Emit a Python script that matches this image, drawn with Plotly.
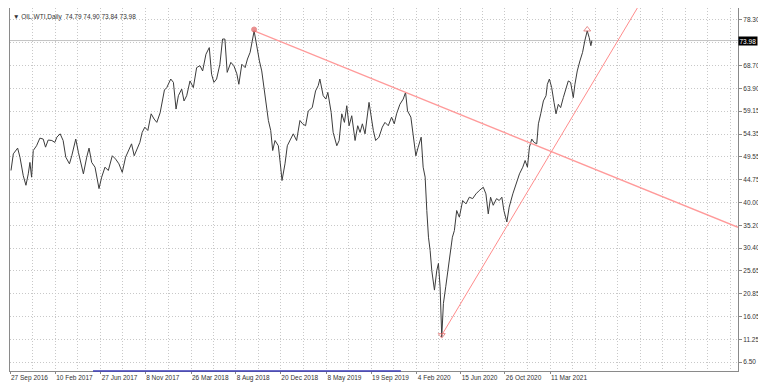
import plotly.graph_objects as go
import pandas as pd

# ---------------- data ----------------
dates = [
    "2016-09-30", "2016-10-07", "2016-10-20", "2016-10-27", "2016-11-06", "2016-11-14", "2016-11-21", "2016-11-26",
    "2016-12-01", "2016-12-06", "2016-12-16", "2016-12-26", "2017-01-05", "2017-01-12", "2017-01-20", "2017-01-31",
    "2017-02-09", "2017-02-15", "2017-02-25", "2017-03-06", "2017-03-14", "2017-03-25", "2017-04-01", "2017-04-13",
    "2017-04-21", "2017-05-06", "2017-05-16", "2017-05-23", "2017-05-31", "2017-06-10", "2017-06-22", "2017-06-30",
    "2017-07-10", "2017-07-20", "2017-08-01", "2017-08-11", "2017-08-21", "2017-08-31", "2017-09-10", "2017-09-20",
    "2017-09-28", "2017-10-06", "2017-10-17", "2017-10-23", "2017-10-30", "2017-11-07", "2017-11-16", "2017-11-26",
    "2017-12-05", "2017-12-13", "2017-12-23", "2017-12-30", "2018-01-05", "2018-01-12", "2018-01-24", "2018-02-01",
    "2018-02-09", "2018-02-16", "2018-02-26", "2018-03-05", "2018-03-13", "2018-03-23", "2018-04-02", "2018-04-12",
    "2018-04-22", "2018-04-30", "2018-05-10", "2018-05-20", "2018-05-27", "2018-06-03", "2018-06-11", "2018-06-21",
    "2018-06-29", "2018-07-06", "2018-07-13", "2018-07-24", "2018-08-02", "2018-08-11", "2018-08-17", "2018-08-26",
    "2018-09-05", "2018-09-12", "2018-09-20", "2018-10-02", "2018-10-10", "2018-10-18", "2018-10-25", "2018-11-04",
    "2018-11-14", "2018-11-21", "2018-11-27", "2018-12-04", "2018-12-14", "2018-12-21", "2018-12-25", "2019-01-03",
    "2019-01-10", "2019-01-20", "2019-01-28", "2019-02-07", "2019-02-17", "2019-02-25", "2019-03-06", "2019-03-14",
    "2019-03-26", "2019-04-05", "2019-04-13", "2019-04-18", "2019-04-28", "2019-05-06", "2019-05-12", "2019-05-22",
    "2019-05-28", "2019-06-08", "2019-06-15", "2019-06-23", "2019-07-01", "2019-07-08", "2019-07-15", "2019-07-23",
    "2019-08-02", "2019-08-10", "2019-08-17", "2019-08-24", "2019-09-01", "2019-09-13", "2019-09-19", "2019-09-26",
    "2019-10-03", "2019-10-13", "2019-10-23", "2019-10-31", "2019-11-10", "2019-11-20", "2019-11-28", "2019-12-05",
    "2019-12-15", "2019-12-25", "2020-01-01", "2020-01-07", "2020-01-17", "2020-01-24", "2020-02-01", "2020-02-08",
    "2020-02-17", "2020-02-23", "2020-02-29", "2020-03-05", "2020-03-10", "2020-03-15", "2020-03-20", "2020-03-28",
    "2020-04-04", "2020-04-09", "2020-04-14", "2020-04-19", "2020-04-24", "2020-05-01", "2020-05-07", "2020-05-13",
    "2020-05-21", "2020-05-27", "2020-06-03", "2020-06-11", "2020-06-21", "2020-07-01", "2020-07-11", "2020-07-21",
    "2020-07-31", "2020-08-10", "2020-08-22", "2020-08-30", "2020-09-06", "2020-09-13", "2020-09-21", "2020-10-01",
    "2020-10-09", "2020-10-17", "2020-10-23", "2020-11-01", "2020-11-08", "2020-11-19", "2020-11-29", "2020-12-09",
    "2020-12-19", "2020-12-26", "2021-01-02", "2021-01-08", "2021-01-15", "2021-01-22", "2021-01-30", "2021-02-04",
    "2021-02-11", "2021-02-19", "2021-02-27", "2021-03-03", "2021-03-09", "2021-03-16", "2021-03-23", "2021-03-29",
    "2021-04-05", "2021-04-12", "2021-04-20", "2021-04-28", "2021-05-05", "2021-05-12", "2021-05-20", "2021-05-25",
    "2021-06-01", "2021-06-09", "2021-06-17", "2021-06-24", "2021-07-01", "2021-07-07", "2021-07-12", "2021-07-15",
]
prices = [
    46.7, 50.2, 51.4, 49.5, 45.6, 43.6, 46.0, 48.4,
    45.3, 50.9, 51.9, 53.5, 53.3, 51.6, 53.1, 53.0,
    52.6, 53.7, 54.4, 53.0, 49.5, 48.1, 49.8, 53.3,
    50.5, 46.0, 49.5, 51.4, 48.4, 47.4, 42.9, 45.3,
    47.4, 46.7, 49.8, 49.1, 48.1, 46.3, 49.5, 51.2,
    52.3, 49.8, 51.9, 52.6, 54.7, 55.8, 55.1, 58.6,
    57.5, 56.8, 58.8, 61.9, 63.6, 64.1, 65.9, 65.2,
    59.6, 62.4, 63.8, 61.3, 62.4, 65.5, 64.1, 68.3,
    68.7, 67.6, 71.1, 72.5, 66.9, 65.2, 65.9, 69.0,
    74.3, 74.3, 67.3, 69.4, 68.7, 67.0, 64.8, 69.0,
    68.3, 70.1, 71.5, 76.0, 72.5, 69.7, 67.6, 62.7,
    57.2, 55.1, 50.9, 53.0, 51.9, 47.4, 44.6, 48.1,
    51.9, 53.3, 54.4, 53.0, 57.2, 56.5, 56.1, 59.2,
    59.9, 63.4, 64.5, 65.9, 62.4, 61.7, 63.1, 58.9,
    54.7, 51.9, 53.0, 58.6, 56.8, 60.3, 56.1, 58.2,
    53.0, 56.1, 54.7, 56.5, 54.4, 61.0, 58.2, 55.1,
    53.0, 53.7, 55.8, 56.8, 56.1, 57.9, 56.5, 58.6,
    60.6, 61.7, 63.1, 59.2, 57.9, 53.7, 49.8, 51.6,
    53.7, 47.4, 45.3, 38.3, 32.7, 29.9, 25.7, 21.6,
    25.7, 27.2, 22.3, 11.8, 18.8, 22.3, 25.7, 28.5,
    32.7, 34.1, 38.3, 36.9, 40.4, 39.7, 41.1, 40.8,
    41.8, 42.5, 43.2, 41.8, 37.6, 41.1, 39.4, 40.8,
    40.4, 41.1, 38.3, 35.9, 39.0, 41.8, 43.9, 46.0,
    47.4, 48.8, 47.4, 51.6, 53.3, 52.6, 52.3, 56.5,
    58.6, 61.3, 62.4, 64.8, 65.9, 64.1, 61.0, 58.6,
    60.6, 59.9, 62.0, 63.8, 65.5, 65.2, 62.0, 64.8,
    67.6, 69.7, 71.5, 74.0, 76.0, 74.6, 72.9, 73.98,
]

header_text = "\u25BC OIL.WTI,Daily  74.79 74.90 73.84 73.98"
last_price = 73.98

# trend line anchors (date, price)
trend1_dates = ["2018-10-02", "2020-01-01"]
trend1_prices = [76.0, 63.1]
trend2_dates = ["2020-04-19", "2020-11-01"]
trend2_prices = [12.15, 35.0]

# arrow objects on the chart
mark_dates = ["2018-10-02", "2020-04-19", "2021-07-01"]
mark_prices = [76.3, 12.15, 76.3]

# axis labels
x_tick_dates = ["2016-09-27", "2017-02-10", "2017-06-27", "2017-11-08", "2018-03-26", "2018-08-08",
                "2018-12-20", "2019-05-08", "2019-09-19", "2020-02-04", "2020-06-15", "2020-10-26", "2021-03-11"]
x_tick_text = ["27 Sep 2016", "10 Feb 2017", "27 Jun 2017", "8 Nov 2017", "26 Mar 2018", "8 Aug 2018",
               "20 Dec 2018", "8 May 2019", "19 Sep 2019", "4 Feb 2020", "15 Jun 2020", "26 Oct 2020", "11 Mar 2021"]
y_tick_vals = [78.30, 73.50, 68.70, 63.90, 59.15, 54.35, 49.55, 44.75, 40.00, 35.20, 30.40, 25.65, 20.85, 16.05, 11.25, 6.50]
y_tick_text = ["78.30", "", "68.70", "63.90", "59.15", "54.35", "49.55", "44.75", "40.00", "35.20",
               "30.40", "25.65", "20.85", "16.05", "11.25", "6.50"]

# ---------------- layout constants ----------------
X_START = pd.Timestamp("2016-09-27")
X_END = pd.Timestamp("2022-09-28")
Y_MIN, Y_MAX = 4.62, 80.81
FONT = "Liberation Sans"
GRID = "#c8c8c8"
DASH = "1px,2px"
TREND_COLOR = "#ff9a9a"

# minor grid lines: half way between labels, continued to the right edge
tick_ts = [pd.Timestamp(d) for d in x_tick_dates]
minor = [tick_ts[i] + (tick_ts[i + 1] - tick_ts[i]) / 2 for i in range(len(tick_ts) - 1)]
step = (tick_ts[-1] - tick_ts[0]) / (2 * (len(tick_ts) - 1))
g = tick_ts[-1] + step
while g < X_END:
    minor.append(g)
    g += step


def ray(d_list, p_list, x_end, y_top):
    d0, d1 = pd.Timestamp(d_list[0]), pd.Timestamp(d_list[1])
    p0, p1 = p_list
    slope = (p1 - p0) / ((d1 - d0).total_seconds() / 86400.0)
    days_end = (x_end - d0).total_seconds() / 86400.0
    p_end = p0 + slope * days_end
    if p_end > y_top:
        days_end = (y_top - p0) / slope
        p_end = y_top
    return [d0, d0 + pd.Timedelta(days=days_end)], [p0, p_end]


fig = go.Figure()

# price series
fig.add_trace(go.Scatter(x=dates, y=prices, mode="lines",
                         line=dict(color="#3c3c3c", width=1), hoverinfo="skip"))

# trend lines
tx, ty = ray(trend1_dates, trend1_prices, X_END, Y_MAX)
fig.add_trace(go.Scatter(x=tx, y=ty, mode="lines", line=dict(color=TREND_COLOR, width=1.3)))
tx, ty = ray(trend2_dates, trend2_prices, X_END, Y_MAX)
fig.add_trace(go.Scatter(x=tx, y=ty, mode="lines", line=dict(color="#ff8c8c", width=1)))

# arrow markers
fig.add_trace(go.Scatter(x=mark_dates, y=mark_prices, mode="markers",
                         marker=dict(symbol=["circle", "triangle-down-open", "triangle-up-open"],
                                     size=[5, 6, 6], color="#e06060",
                                     line=dict(color="#e06060", width=1))))

# bid line
fig.add_shape(type="line", xref="paper", x0=0, x1=1, yref="y", y0=last_price, y1=last_price,
              line=dict(color="#c4c4c4", width=1), layer="below")

# blue strip at the bottom
fig.add_shape(type="line", xref="x", x0="2017-06-04", x1="2019-12-18", yref="paper", y0=0, y1=0,
              line=dict(color="#3a3ab8", width=1.5))

# header text
fig.add_annotation(xref="paper", yref="paper", x=0.002, y=0.992, xanchor="left", yanchor="top",
                   text=header_text, showarrow=False,
                   font=dict(family=FONT, size=6.5, color="#333333"))

# last price box
fig.add_annotation(xref="paper", yref="y", x=1.0, y=last_price, xanchor="left", yanchor="middle",
                   text=f"{last_price:.2f}", showarrow=False, bgcolor="#000000",
                   borderpad=0.5, font=dict(family=FONT, size=6.5, color="#ffffff"))

# The page body has an 8px default margin, so the figure is sized/offset for it.
fig.update_layout(
    width=758, height=377,
    margin=dict(l=2, r=28, t=0, b=14, autoexpand=False),
    paper_bgcolor="#ffffff", plot_bgcolor="#ffffff",
    showlegend=False,
    font=dict(family=FONT, size=6.5, color="#333333"),
    xaxis=dict(
        type="date", range=[X_START, X_END], automargin=False,
        tickmode="array", tickvals=x_tick_dates, ticktext=x_tick_text,
        ticklabelposition="outside right", tickangle=0,
        ticks="outside", ticklen=2, tickcolor="#888888",
        showgrid=True, gridcolor=GRID, griddash=DASH, gridwidth=1,
        minor=dict(tickvals=minor, showgrid=True, gridcolor=GRID, griddash=DASH, ticks=""),
        showline=True, linecolor="#8a8a8a", linewidth=1, mirror=True,
        zeroline=False, tickfont=dict(size=6.5, color="#333333"),
    ),
    yaxis=dict(
        side="right", range=[Y_MIN, Y_MAX], automargin=False,
        tickmode="array", tickvals=y_tick_vals, ticktext=y_tick_text,
        ticks="outside", ticklen=3, tickcolor="#888888",
        showgrid=True, gridcolor=GRID, griddash=DASH, gridwidth=1,
        showline=True, linecolor="#8a8a8a", linewidth=1, mirror=True,
        zeroline=False, tickfont=dict(size=6.5, color="#333333"),
    ),
)

fig.write_html("out.html")
